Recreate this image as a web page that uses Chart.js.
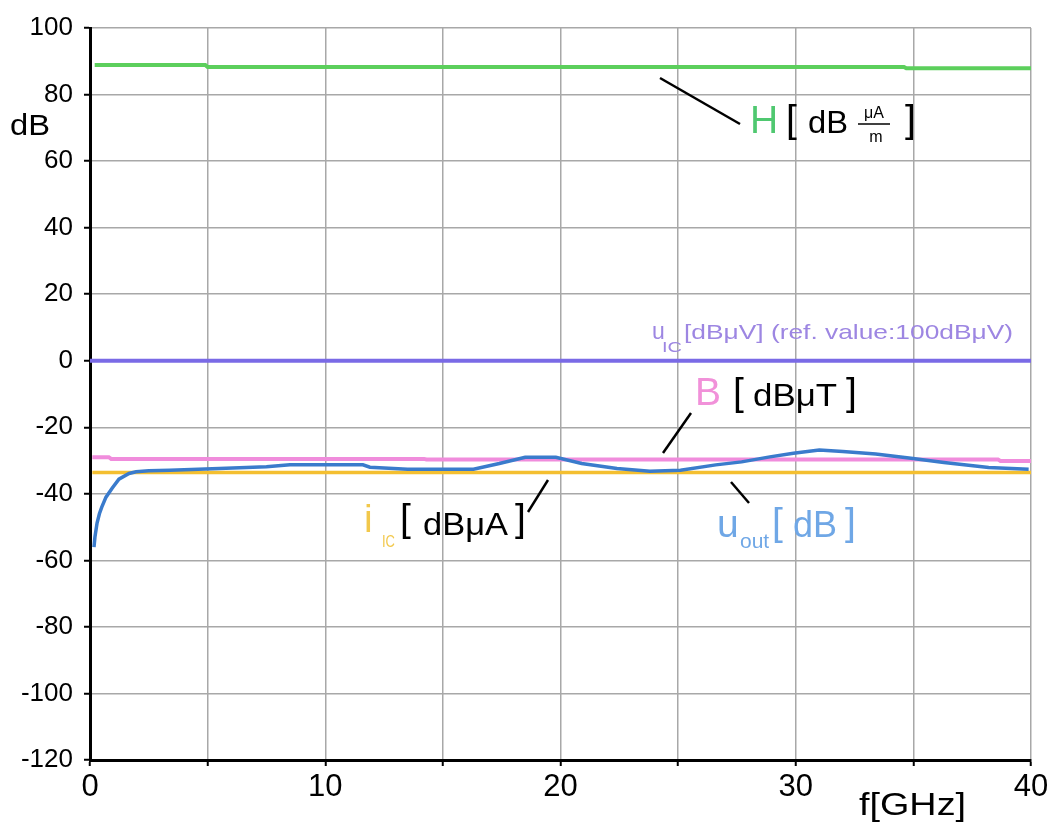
<!DOCTYPE html>
<html>
<head>
<meta charset="utf-8">
<script src="https://cdn.jsdelivr.net/npm/chart.js@4.4.0/dist/chart.umd.min.js"></script>
<style>
html,body{margin:0;padding:0;background:#fff;}
#wrap{width:1047px;height:830px;position:relative;}
</style>
</head>
<body>
<div id="wrap"><canvas id="c" width="1047" height="830"></canvas></div>
<script>
// ---- data ----
const xTicksLabelled = [0, 10, 20, 30, 40];
const yTickValues = [-120, -100, -80, -60, -40, -20, 0, 20, 40, 60, 80, 100];

const freqH = [0.2, 4.9, 5.0, 34.6, 34.7, 40];
const valH  = [88.9, 88.9, 88.3, 88.3, 87.9, 87.9];

const freqUic = [0, 40];
const valUic  = [0, 0];

const freqB = [0.1, 0.8, 0.9, 14.2, 14.3, 38.6, 38.7, 40];
const valB  = [-29.0, -29.0, -29.5, -29.5, -29.7, -29.7, -30.1, -30.1];

const freqIic = [0.1, 40];
const valIic  = [-33.6, -33.6];

const freqUout = [0.17, 0.21, 0.3, 0.4, 0.5, 0.68, 0.94, 1.23, 1.66, 1.96, 2.5, 3.4, 5.5, 7.5, 8.5, 11.6, 11.9, 13.5, 16.3, 17.4, 18.5, 19.8, 20.9, 22.4, 23.8, 25.1, 26.6, 27.7, 28.9, 29.9, 31.0, 32.0, 33.4, 34.9, 36.3, 38.2, 39.9];
const valUout  = [-56, -53, -48.8, -46, -44, -41, -38.3, -35.6, -33.9, -33.4, -33.1, -32.9, -32.4, -31.9, -31.3, -31.3, -32.0, -32.6, -32.6, -30.9, -29.0, -29.0, -30.9, -32.4, -33.2, -32.9, -31.3, -30.4, -28.9, -27.8, -26.8, -27.3, -28.0, -29.3, -30.6, -32.1, -32.6];

function pts(xs, ys){ return xs.map((x,i)=>({x:x, y:ys[i]})); }

const FONT = '"Liberation Sans", Arial, Helvetica, sans-serif';

function run(ctx, str, x, y, size, color, align){
  ctx.save();
  ctx.font = size + 'px ' + FONT;
  ctx.fillStyle = color;
  ctx.textBaseline = 'alphabetic';
  ctx.textAlign = align || 'left';
  ctx.fillText(str, x, y);
  const w = ctx.measureText(str).width;
  ctx.restore();
  return w;
}
function fitRun(ctx, str, x, y, size, color, width){
  ctx.save();
  ctx.font = size + 'px ' + FONT;
  const w = ctx.measureText(str).width;
  ctx.translate(x, y);
  ctx.scale(width / w, 1);
  ctx.fillStyle = color;
  ctx.textBaseline = 'alphabetic';
  ctx.textAlign = 'left';
  ctx.fillText(str, 0, 0);
  ctx.restore();
}
function seg(ctx, x1, y1, x2, y2, w, color){
  ctx.save();
  ctx.strokeStyle = color || '#000';
  ctx.lineWidth = w;
  ctx.beginPath(); ctx.moveTo(x1,y1); ctx.lineTo(x2,y2); ctx.stroke();
  ctx.restore();
}

const annotations = {
  id: 'annotations',
  afterDraw(chart){
    const ctx = chart.ctx;
    const K = '#000';
    // axis titles
    fitRun(ctx, 'dB', 10, 135, 29, K, 40);
    fitRun(ctx, 'f[GHz]', 859, 815, 31, K, 107);

    // H label
    const cH = '#4fc870';
    run(ctx, 'H', 750, 133, 39, cH);
    run(ctx, '[', 786, 132, 39, K);
    fitRun(ctx, 'dB', 808, 133, 31, K, 40);
    run(ctx, 'μA', 874, 118, 16, K, 'center');
    seg(ctx, 858, 124, 890, 124, 1.5, K);
    run(ctx, 'm', 876, 142, 16, K, 'center');
    run(ctx, ']', 905, 132, 39, K);
    seg(ctx, 660, 78, 740, 124, 2.5, K);

    // u_IC label
    const cU = '#9d86e2';
    run(ctx, 'u', 652, 339, 23, cU);
    fitRun(ctx, 'IC', 662, 352, 14, cU, 20);
    fitRun(ctx, '[dBμV] (ref. value:100dBμV)', 684, 339, 21, cU, 329);

    // B label
    const cB = '#f191d9';
    run(ctx, 'B', 695, 405, 39, cB);
    run(ctx, '[', 733, 405, 39, K);
    fitRun(ctx, 'dBμT', 753, 406, 31, K, 84);
    run(ctx, ']', 846, 405, 39, K);
    seg(ctx, 691, 413, 663, 453, 2.5, K);

    // i_IC label
    const cI = '#f2c84b';
    run(ctx, 'i', 364, 532, 39, cI);
    fitRun(ctx, 'IC', 382, 547, 17, cI, 13);
    run(ctx, '[', 400, 531, 39, K);
    fitRun(ctx, 'dBμA', 423, 535, 31, K, 85);
    run(ctx, ']', 515, 531, 39, K);
    seg(ctx, 548, 480, 528, 512, 2.5, K);

    // u_out label
    const cO = '#6fa7e6';
    run(ctx, 'u', 717, 537, 39, cO);
    run(ctx, 'out', 740, 548, 21, cO);
    run(ctx, '[', 772, 535, 39, cO);
    run(ctx, 'dB', 793, 537, 36, cO);
    run(ctx, ']', 845, 535, 39, cO);
    seg(ctx, 731, 482, 749, 503, 2.5, K);
  }
};

const chart = new Chart(document.getElementById('c'), {
  type: 'line',
  data: {
    datasets: [
      {label:'u_out', data: pts(freqUout, valUout), borderColor:'#3a7bcc', borderWidth:3.5, pointRadius:0, tension:0, order:0},
      {label:'i_IC', data: pts(freqIic, valIic), borderColor:'#f4bf30', borderWidth:3.5, pointRadius:0, order:2},
      {label:'B', data: pts(freqB, valB), borderColor:'#f08cdc', borderWidth:4, pointRadius:0, order:1},
      {label:'u_IC', data: pts(freqUic, valUic), borderColor:'#7a6ae6', borderWidth:4, pointRadius:0, order:3},
      {label:'H', data: pts(freqH, valH), borderColor:'#5ccf5c', borderWidth:4, pointRadius:0, order:4}
    ]
  },
  options: {
    responsive: false,
    animation: false,
    events: [],
    layout: { padding: { left: 0, top: 28, right: 16, bottom: 0 } },
    plugins: { legend: { display: false }, tooltip: { enabled: false } },
    scales: {
      x: {
        type: 'linear', min: 0, max: 40,
        afterFit(s){ s.height = 70; s.paddingRight = 0; s.paddingLeft = 0; },
        grid: { color: '#a8a8a8', lineWidth: 1.5, tickColor: '#000', tickLength: 6, tickWidth: 2 },
        border: { color: '#000', width: 3 },
        ticks: {
          stepSize: 5, autoSkip: false, maxRotation: 0, padding: 3,
          color: '#000', font: { size: 31, family: FONT },
          callback: v => xTicksLabelled.includes(v) ? String(v) : ''
        }
      },
      y: {
        type: 'linear', min: yTickValues[0], max: yTickValues[yTickValues.length-1],
        afterFit(s){ s.width = 90; s.paddingTop = 0; s.paddingBottom = 0; },
        grid: { color: '#a8a8a8', lineWidth: 1.5, tickColor: '#000', tickLength: 6, tickWidth: 2 },
        border: { color: '#000', width: 3 },
        ticks: {
          stepSize: 20, autoSkip: false, padding: 11,
          color: '#000', font: { size: 26, family: FONT },
          callback: v => yTickValues.includes(v) ? String(v) : ''
        }
      }
    }
  },
  plugins: [annotations]
});
</script>
</body>
</html>
